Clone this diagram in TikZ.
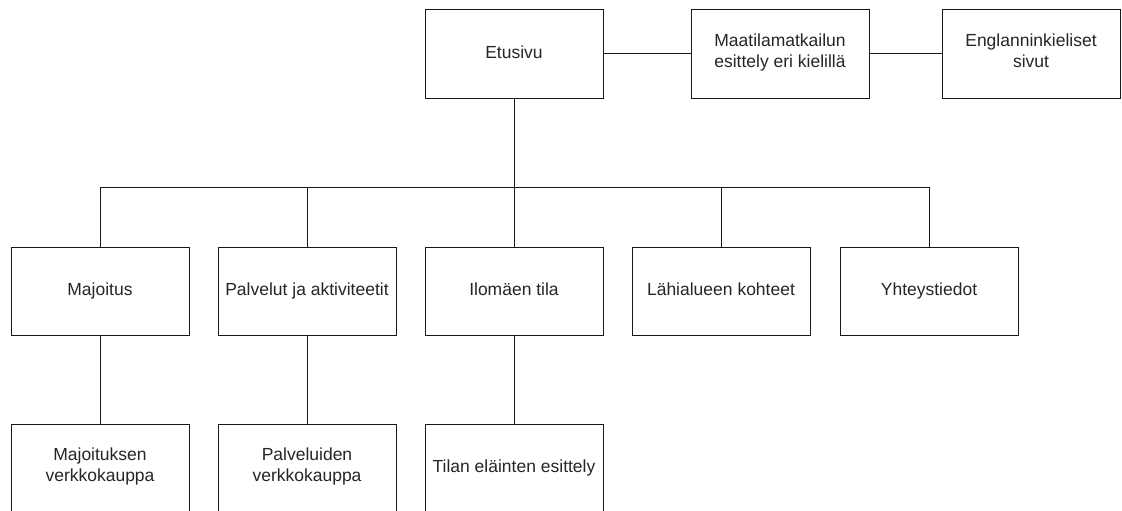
\documentclass[tikz,border=0pt]{standalone}
\usepackage{fontspec}
\setmainfont{Liberation Sans}
\begin{document}
\begin{tikzpicture}[x=1pt,y=-1pt,
  box/.style={draw=black!90, line width=1pt, fill=white, minimum width=178pt, minimum height=88pt,
    inner sep=0pt, align=center, text=black!85, font=\fontsize{17.5}{21}\selectfont,
    execute at begin node={\strut}, execute at end node={\strut}},
  link/.style={draw=black!90, line width=1pt}]
\useasboundingbox (0,0) rectangle (1122,511);
% top row
\node[box] (etu) at (514,54) {Etusivu};
\node[box] (maa) at (780,54) {Maatilamatkailun\\esittely eri kielillä};
\node[box] (eng) at (1031,54) {Englanninkieliset\\sivut};
% middle row
\node[box] (maj) at (100,291) {Majoitus};
\node[box] (pal) at (307,291) {Palvelut ja aktiviteetit};
\node[box] (ilo) at (514,291) {Ilomäen tila};
\node[box] (lah) at (721,291) {Lähialueen kohteet};
\node[box] (yht) at (929,291) {Yhteystiedot};
% bottom row
\node[box] (majv) at (100,468) {Majoituksen\\verkkokauppa};
\node[box] (palv) at (307,468) {Palveluiden\\verkkokauppa};
\node[box] (tila) at (514,468) {Tilan eläinten esittely};
% connectors
\coordinate (bus) at (514,187);
\draw[link] (etu) -- (maa);
\draw[link] (maa) -- (eng);
\draw[link] (etu.south) -- (bus);
\draw[link] (maj.north) |- (bus);
\draw[link] (pal.north) |- (bus);
\draw[link] (ilo.north) -- (bus);
\draw[link] (lah.north) |- (bus);
\draw[link] (yht.north) |- (bus);
\draw[link] (maj) -- (majv);
\draw[link] (pal) -- (palv);
\draw[link] (ilo) -- (tila);
\end{tikzpicture}
\end{document}
